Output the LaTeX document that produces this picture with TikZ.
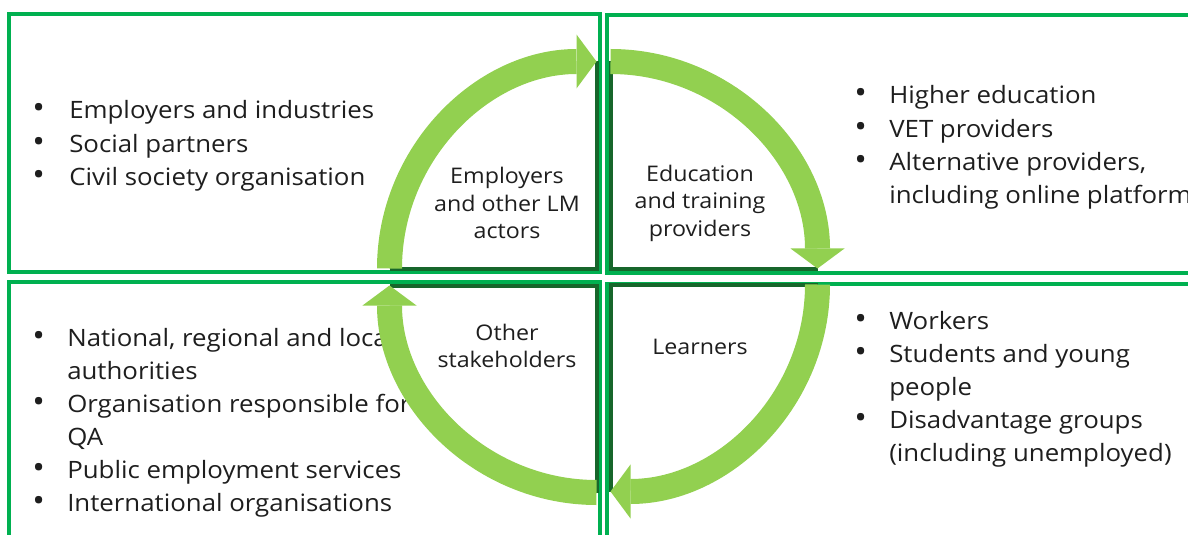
\documentclass[tikz,border=0pt]{standalone}
\usepackage{fontspec}
\setmainfont{Open Sans}[FakeStretch=1.08]
\usetikzlibrary{arrows.meta}
\definecolor{boxgreen}{HTML}{00B050}
\definecolor{arcgreen}{HTML}{92D050}
\definecolor{edgegreen}{HTML}{17662B}
\definecolor{inkgray}{HTML}{1E1E1E}
\tikzset{
  box/.style={draw=boxgreen, line width=0.1cm},
  quadedge/.style={draw=edgegreen, line width=0.1cm},
  cyclearrow/.style={draw=arcgreen, line width=0.625cm,
    -{Triangle[length=0.5cm, width=1.35cm, line width=0pt]}},
  list/.style={inkgray, anchor=base west, inner sep=0pt,
    font=\fontsize{17}{23.5}\selectfont},
  hub/.style={inkgray, align=center, inner sep=0pt,
    font=\fontsize{15.3}{19.6}\selectfont},
}
\newcommand{\dotitem}{\scalebox{1.3}{\textbullet}}
\begin{document}
\begin{tikzpicture}[x=0.025cm, y=0.025cm]
\def\tlbox{(9,520) rectangle (600,262.5)}
\def\trbox{(606.5,519) rectangle (1230,261)}
\def\blbox{(9,252) rectangle (600,-30)}
\def\brbox{(606.5,250.5) rectangle (1230,-30)}

\useasboundingbox (0,0) rectangle (1188,534);
\clip (0,0) rectangle (1188,534);

\draw[box] \tlbox;
\draw[box] \trbox;
\draw[box] \blbox;
\draw[box] \brbox;

% quadrant corners and arc ends
\coordinate (tlc) at (596.5,265.5);
\coordinate (tla) at (389.5,265.5);
\coordinate (tlb) at (596.5,472.5);
\coordinate (trc) at (610.5,265.5);
\coordinate (tra) at (610.5,472.5);
\coordinate (trb) at (817.5,265.5);
\coordinate (brc) at (610.5,249.5);
\coordinate (bra) at (817.5,249.5);
\coordinate (brb) at (610.5,42.5);
\coordinate (blc) at (596.5,248.5);
\coordinate (bla) at (596.5,41.5);
\coordinate (blb) at (389.5,248.5);

\draw[quadedge] (tla) -- (tlc) -- (tlb);
\draw[quadedge] (tra) -- (trc) -- (trb);
\draw[quadedge] (bra) -- (brc) -- (brb);
\draw[quadedge] (bla) -- (blc) -- (blb);

\node[list] (emp) at (32,415) {\begin{tabular}[t]{@{}p{0.925cm}@{}l@{}}
\dotitem & Employers and industries\\
\dotitem & Social partners\\
\dotitem & Civil society organisation
\end{tabular}};
\node[list] (edu) at (854,430) {\begin{tabular}[t]{@{}p{0.875cm}@{}l@{}}
\dotitem & Higher education\\
\dotitem & VET providers\\
\dotitem & Alternative providers,\\
 & including online platforms
\end{tabular}};
\node[list] (oth) at (32,188) {\begin{tabular}[t]{@{}p{0.875cm}@{}l@{}}
\dotitem & National, regional and local\\
 & authorities\\
\dotitem & Organisation responsible for\\
 & QA\\
\dotitem & Public employment services\\
\dotitem & International organisations
\end{tabular}};
\node[list] (lrn) at (854,205) {\begin{tabular}[t]{@{}p{0.875cm}@{}l@{}}
\dotitem & Workers\\
\dotitem & Students and young\\
 & people\\
\dotitem & Disadvantage groups\\
 & (including unemployed)
\end{tabular}};

\node[hub] (emphub) at (507,331) {Employers\\and other LM\\actors};
\node[hub] (eduhub) at (700,331) {Education\\and training\\providers};
\node[hub] (othhub) at (507,188) {Other\\stakeholders};
\node[hub] (lrnhub) at (700,187) {Learners};

\draw[cyclearrow] (tla) arc[start angle=180, end angle=90, radius=207];
\draw[cyclearrow] (tra) arc[start angle=90, end angle=0, radius=207];
\draw[cyclearrow] (bra) arc[start angle=0, end angle=-90, radius=207];
\draw[cyclearrow] (bla) arc[start angle=270, end angle=180, radius=207];
\end{tikzpicture}
\end{document}
